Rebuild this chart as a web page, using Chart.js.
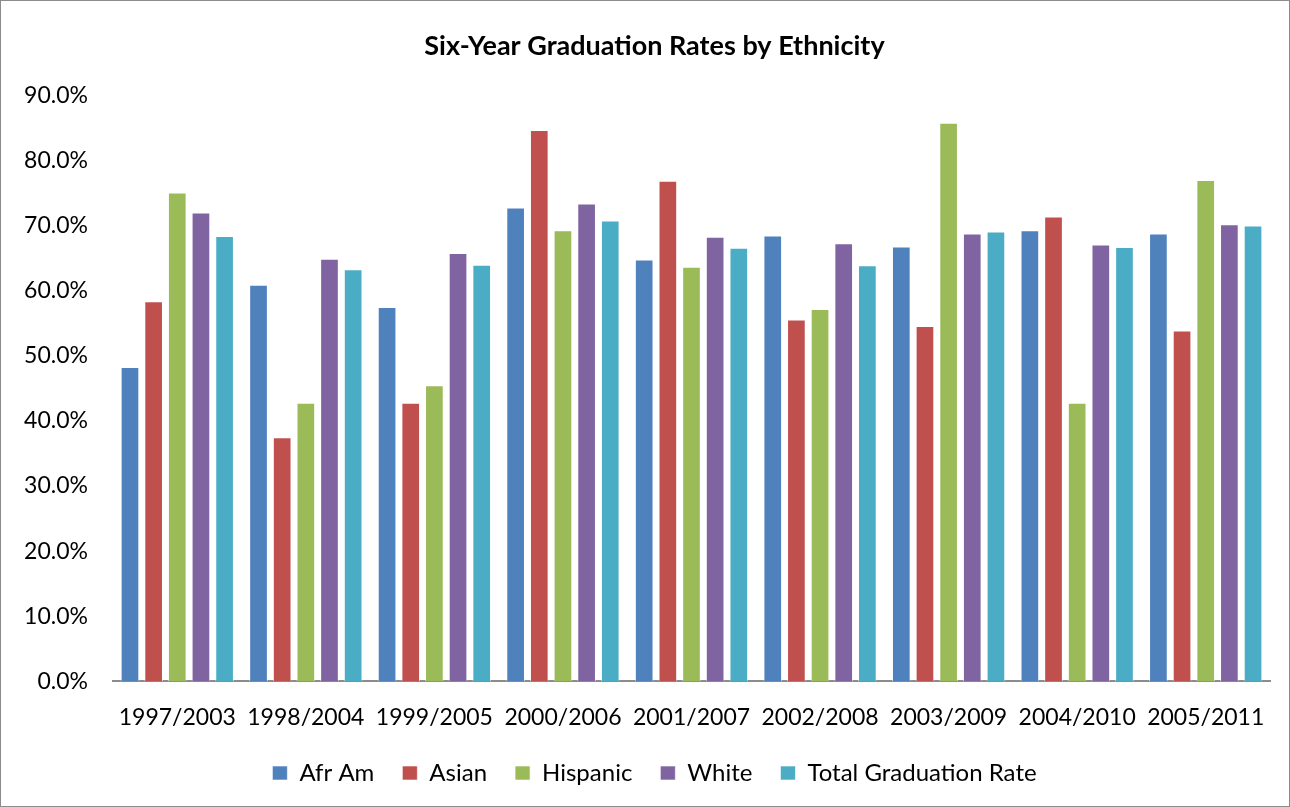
<!DOCTYPE html>
<html>
<head>
<meta charset="utf-8">
<script src="https://cdn.jsdelivr.net/npm/chart.js@4.4.1/dist/chart.umd.min.js"></script>
<style>
  html, body { margin: 0; padding: 0; background: #fff; }
  #wrap { position: relative; width: 1288px; height: 805px; border: 1px solid #8c8c8c; }
</style>
</head>
<body>
<div id="wrap"><canvas id="gradChart"></canvas></div>
<script>
const cohorts = ['1997/2003', '1998/2004', '1999/2005', '2000/2006', '2001/2007', '2002/2008', '2003/2009', '2004/2010', '2005/2011'];
const afrAm    = [48.3, 60.9, 57.5, 72.8, 64.8, 68.5, 66.8, 69.3, 68.8];
const asian    = [58.4, 37.5, 42.8, 84.7, 76.9, 55.6, 54.6, 71.4, 53.9];
const hispanic = [75.1, 42.8, 45.5, 69.3, 63.7, 57.2, 85.8, 42.8, 77.0];
const white    = [72.0, 64.9, 65.8, 73.4, 68.3, 67.3, 68.8, 67.1, 70.2];
const total    = [68.4, 63.3, 64.0, 70.8, 66.6, 63.9, 69.1, 66.7, 70.0];

const font = "Lato, 'Open Sans', sans-serif";

function series(label, data, color) {
    return {
        label: label,
        data: data,
        backgroundColor: color,
        borderColor: 'rgba(255,255,255,0.6)',
        borderWidth: 1,
        barPercentage: 0.79,
        categoryPercentage: 0.92
    };
}

// the title and legend sit a little right of centre in the original
const nudge = {
    id: 'nudge',
    afterLayout(chart) {
        [chart.titleBlock, chart.legend].forEach(b => {
            if (b) { b.left += 9; b.right += 9; }
        });
    }
};

const ctx = document.getElementById('gradChart').getContext('2d');
new Chart(ctx, {
    type: 'bar',
    data: {
        labels: cohorts,
        datasets: [
            series('Afr Am', afrAm, '#4f81bd'),
            series('Asian', asian, '#c0504d'),
            series('Hispanic', hispanic, '#9bbb59'),
            series('White', white, '#8064a2'),
            series('Total Graduation Rate', total, '#4bacc6')
        ]
    },
    plugins: [nudge],
    options: {
        responsive: true,
        maintainAspectRatio: false,
        animation: false,
        layout: { padding: { left: 20, right: 19, top: 18, bottom: 11 } },
        scales: {
            x: {
                grid: { display: false },
                border: { display: true, color: '#8c8c8c', width: 2 },
                ticks: { color: '#000', font: { family: font, size: 23 }, padding: 14 },
                afterFit: function(scale) { scale.height = scale.height - 12; }
            },
            y: {
                min: 0,
                max: 90,
                grid: { display: false, drawTicks: false },
                border: { display: false },
                ticks: {
                    stepSize: 10,
                    color: '#000',
                    padding: 25,
                    font: { family: font, size: 23 },
                    callback: function(v) { return v.toFixed(1) + '%'; }
                },
                afterFit: function(scale) { scale.width = 92; }
            }
        },
        plugins: {
            title: {
                display: true,
                text: 'Six-Year Graduation Rates by Ethnicity',
                color: '#000',
                font: { family: font, size: 27, weight: 'bold' },
                padding: { top: 11, bottom: 33 }
            },
            legend: {
                position: 'bottom',
                labels: {
                    color: '#000',
                    font: { family: font, size: 24 },
                    boxWidth: 15,
                    boxHeight: 14,
                    padding: 28
                }
            },
            tooltip: { enabled: false }
        }
    }
});
</script>
</body>
</html>
